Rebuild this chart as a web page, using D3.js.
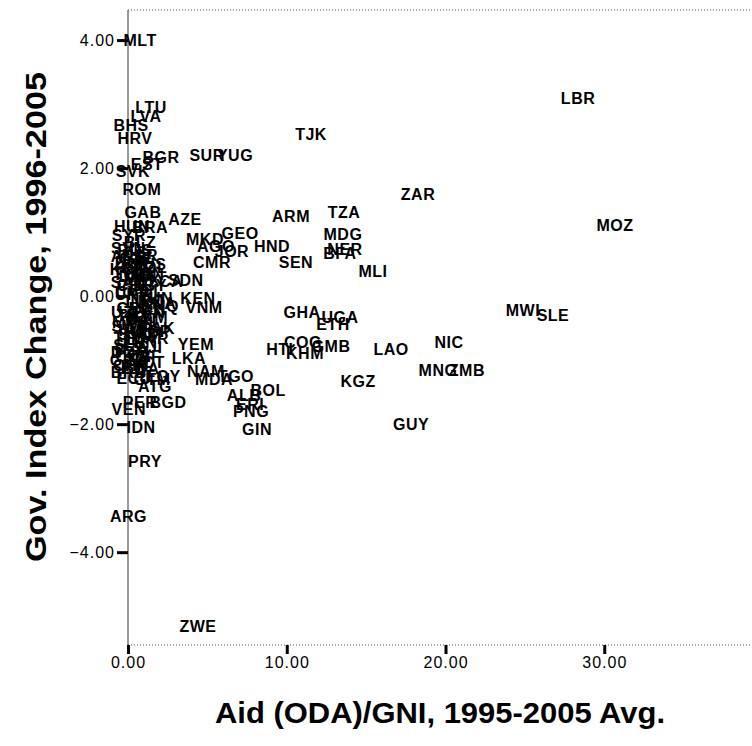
<!DOCTYPE html>
<html>
<head>
<meta charset="utf-8">
<script src="https://cdn.jsdelivr.net/npm/d3@7"></script>
<style>
  html, body { margin: 0; padding: 0; background: #fff; }
  svg { display: block; }
  .pt { font-family: "Liberation Sans", Arial, sans-serif; font-weight: bold; font-size: 16px; fill: #000; letter-spacing: 0.5px; }
  .title { font-family: "Liberation Sans", Arial, sans-serif; font-weight: bold; font-size: 29px; fill: #000; }
</style>
</head>
<body>
<svg id="chart" width="752" height="746"></svg>
<script>
// Country codes, average aid (ODA/GNI, %) and change in governance index
const countries = [
  "MLT","LTU","LVA","BHS","HRV","BGR","EST","SVK","SUR","YUG","TJK","ROM","ZAR",
  "GAB","HUN","BRA","AZE","SYR","BLZ","ARM","TZA","MOZ","MDG","GEO","MKD","AGO",
  "JOR","HND","NER","BFA","SEN","CMR","MLI","KEN","VNM","GHA","UGA","ETH","MWI",
  "SLE","YEM","COG","GMB","HTI","KHM","LAO","NIC","MNG","ZMB","KGZ","LKA","NAM",
  "TGO","MDA","BOL","ALB","ERI","PNG","GIN","GUY","PER","BGD","VEN","IDN","PRY",
  "ARG","ZWE","LBR","CHN","DOM","ECU","EGY","PAK","SLV","SDN","TUN","RUS","UKR",
  "BLR","KAZ","TUR","MEX","CHL","COL","URY","IND","CRI","PAN","THA","MYS","PHL",
  "IRN","JAM","TTO","MAR","LBN","DZA","ZAF","BWA","GTM","POL","MUS","LCA",
  "SVN","CZE","KOR","OMN","SAU","LBY","IRQ","UZB","TKM","GNQ","SWZ","FJI",
  "GRD","VCT","BRB","ATG","DMA","KNA","SYC","CYP","QAT","ARE","SGP","CUB"
];
const aidGni = [
  0.76,1.45,1.13,0.19,0.44,2.08,1.20,0.31,4.98,6.74,11.53,0.88,18.27,
  0.94,0.25,1.39,3.59,0.06,0.76,10.27,13.61,30.68,13.54,7.06,4.85,5.54,
  6.55,9.07,13.67,13.35,10.58,5.29,15.43,4.41,4.79,10.96,13.35,12.91,24.88,
  26.77,4.28,11.02,12.79,9.57,11.15,16.57,20.22,19.53,21.35,14.49,3.84,4.91,
  6.80,5.42,8.82,7.31,7.69,7.75,8.13,17.83,0.76,2.52,0.05,0.82,1.07,
  0.03,4.41,28.35,0.19,0.13,0.38,2.20,1.89,0.06,3.65,1.76,0.44,0.76,
  0.25,0.63,0.13,0.88,0.38,1.13,0.25,0.76,0.19,1.26,0.38,0.13,0.88,
  0.31,1.07,0.13,1.39,0.76,0.25,1.07,0.76,1.51,1.39,1.26,2.39,
  0.02,0.50,0.02,1.07,0.02,1.39,1.39,0.02,1.39,2.02,0.13,1.39,
  0.02,1.26,0.05,1.70,0.60,1.90,0.45,0.30,0.90,0.02,1.60,0.35
];
const govChange = [
  4.00,2.95,2.81,2.67,2.47,2.16,2.05,1.94,2.19,2.20,2.52,1.66,1.58,
  1.30,1.09,1.08,1.19,0.95,0.84,1.25,1.30,1.11,0.97,0.98,0.88,0.77,
  0.69,0.78,0.73,0.66,0.53,0.53,0.38,-0.03,-0.17,-0.25,-0.34,-0.44,-0.22,
  -0.30,-0.75,-0.73,-0.78,-0.83,-0.89,-0.83,-0.73,-1.16,-1.16,-1.34,-0.97,-1.17,
  -1.25,-1.31,-1.47,-1.56,-1.70,-1.80,-2.08,-2.00,-1.66,-1.66,-1.77,-2.06,-2.58,
  -3.44,-5.16,3.08,-1.08,-0.88,-1.28,-1.25,-0.50,-0.77,0.25,-0.03,0.72,0.63,
  0.53,0.44,0.34,0.25,0.16,0.09,0.03,-0.09,-0.19,-0.25,-0.31,-0.41,-0.44,
  -0.53,-0.59,-0.66,-0.66,-0.72,-0.84,-0.94,-1.13,-1.31,0.44,0.50,0.23,
  0.75,0.59,0.41,0.34,0.22,0.16,-0.09,-0.25,-0.34,-0.16,-0.47,-0.81,
  -1.00,-1.03,-1.19,-1.41,0.30,-0.12,-0.60,0.05,-0.37,0.62,-0.56,-0.95
];
const xTicks = [0, 10, 20, 30];
const yTicks = [-4, -2, 0, 2, 4];
const xTitle = "Aid (ODA)/GNI, 1995-2005 Avg.";
const yTitle = "Gov. Index Change, 1996-2005";

const data = countries.map((c, i) => ({ code: c, aid: aidGni[i], gov: govChange[i] }));

const svg = d3.select("#chart");
const plotLeft = 128, plotTop = 10, plotBottom = 645, plotRight = 763;

const x = d3.scaleLinear().domain([0, 40]).range([plotLeft, plotRight]);
const y = d3.scaleLinear().domain([-5.45, 4.47]).range([plotBottom, plotTop]);

// frame: dotted top and bottom rules, solid left axis line
svg.append("line")
  .attr("x1", plotLeft).attr("x2", 752).attr("y1", plotTop).attr("y2", plotTop)
  .attr("stroke", "#555").attr("stroke-width", 1).attr("stroke-dasharray", "1,2");
svg.append("line")
  .attr("x1", plotLeft).attr("x2", 752).attr("y1", plotBottom).attr("y2", plotBottom)
  .attr("stroke", "#555").attr("stroke-width", 1).attr("stroke-dasharray", "1,2");
svg.append("line")
  .attr("x1", plotLeft).attr("x2", plotLeft).attr("y1", plotTop).attr("y2", plotBottom)
  .attr("stroke", "#333").attr("stroke-width", 1);

function styleTicks(g) {
  g.select(".domain").remove();
  g.selectAll(".tick line").attr("stroke", "#000").attr("stroke-width", 3);
  g.selectAll(".tick text")
    .attr("fill", "#000")
    .style("font-family", "'Liberation Sans', Arial, sans-serif")
    .style("font-size", "16px")
    .style("letter-spacing", "1px");
}

// x axis
const xAxis = d3.axisBottom(x).tickValues(xTicks).tickFormat(d3.format(".2f"))
  .tickSize(9).tickPadding(3);
svg.append("g").attr("transform", `translate(0,${plotBottom})`).call(xAxis).call(styleTicks);

// y axis
const yAxis = d3.axisLeft(y).tickValues(yTicks).tickFormat(d3.format(".2f"))
  .tickSize(11).tickPadding(2);
svg.append("g").attr("transform", `translate(${plotLeft},0)`).call(yAxis).call(styleTicks);

// country labels placed at each data point
svg.append("g").selectAll("text")
  .data(data)
  .join("text")
  .attr("class", "pt")
  .attr("x", d => x(d.aid))
  .attr("y", d => y(d.gov))
  .attr("text-anchor", "middle")
  .attr("dominant-baseline", "central")
  .text(d => d.code);

// axis titles
svg.append("text")
  .attr("class", "title")
  .attr("x", 440).attr("y", 723)
  .attr("text-anchor", "middle")
  .attr("textLength", 450).attr("lengthAdjust", "spacingAndGlyphs")
  .text(xTitle);

svg.append("text")
  .attr("class", "title")
  .attr("transform", "translate(46,317) rotate(-90)")
  .attr("text-anchor", "middle")
  .attr("textLength", 490).attr("lengthAdjust", "spacingAndGlyphs")
  .text(yTitle);
</script>
</body>
</html>
